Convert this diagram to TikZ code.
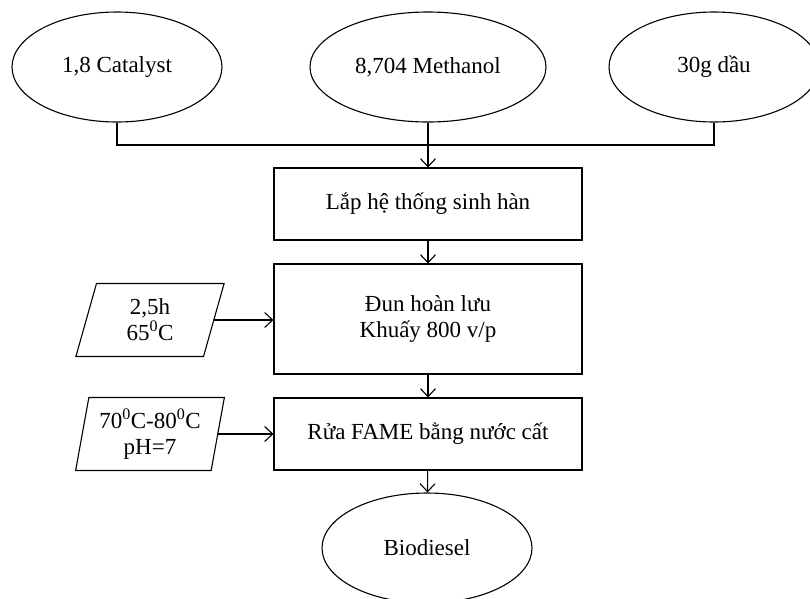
\documentclass[tikz,border=0pt]{standalone}
\usepackage{fontspec}
\setmainfont{Liberation Serif}
\usepackage{tikz}
\usetikzlibrary{arrows.meta,shapes.geometric}

\begin{document}
\begin{tikzpicture}[
  x=1pt, y=-1pt,
  every node/.style={draw, line width=1.1pt, font=\fontsize{23}{26}\selectfont, inner sep=1pt, align=center},
  ingredient/.style={ellipse, minimum width=210pt, minimum height=110pt},
  process/.style={rectangle, minimum width=308pt},
  condition/.style={trapezium, trapezium left angle=78, trapezium right angle=102,
    trapezium stretches=true, minimum width=149pt, minimum height=73pt},
  flow/.style={draw, line width=1.1pt, -{Straight Barb[length=8pt,width=15pt]}}
]
\useasboundingbox (0,0) rectangle (810,598);

% inputs
\node[ingredient] (cat) at (117,67) {1,8 Catalyst};
\node[ingredient, minimum width=236pt] (meth) at (428,67) {8,704 Methanol};
\node[ingredient] (oil) at (714,67) {30g dầu};
\coordinate (join) at (428,145);

% steps
\node[process, minimum height=72pt] (lap) at (428,204) {Lắp hệ thống sinh hàn};
\node[process, minimum height=110pt] (dun) at (428,319) {Đun hoàn lưu\\Khuấy 800 v/p};
\node[process, minimum height=72pt] (rua) at (428,434) {Rửa FAME bằng nước cất};
\node[ingredient] (bio) at (427,548) {Biodiesel};

% conditions
\node[condition] (cond1) at (150,320) {2,5h\\65\textsuperscript{0}C};
\node[condition] (cond2) at (150,434) {70\textsuperscript{0}C-80\textsuperscript{0}C\\pH=7};

\draw[line width=1.1pt] (cat.south) |- (join);
\draw[line width=1.1pt] (oil.south) |- (join);
\draw[flow] (meth.south) -- (lap.north);
\draw[flow] (lap) -- (dun);
\draw[flow] (dun) -- (rua);
\draw[flow] (rua) -- (bio);
\draw[flow] (cond1.east) -- (cond1.east -| dun.west);
\draw[flow] (cond2.east) -- (cond2.east -| rua.west);
\end{tikzpicture}
\end{document}
